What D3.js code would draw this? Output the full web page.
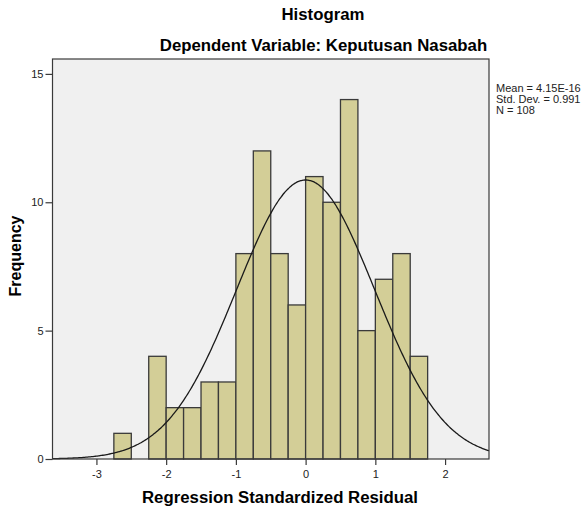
<!DOCTYPE html>
<html>
<head>
<meta charset="utf-8">
<script src="https://cdn.jsdelivr.net/npm/d3@7"></script>
<style>
  html, body { margin: 0; padding: 0; background: #fff; }
  svg { display: block; font-family: Arial, "Liberation Sans", sans-serif; }
</style>
</head>
<body>
<svg id="chart" width="587" height="510"></svg>
<script>
// SPSS-style residual histogram with normal curve
var binStart = [-2.75, -2.5, -2.25, -2.0, -1.75, -1.5, -1.25, -1.0, -0.75, -0.5, -0.25, 0.0, 0.25, 0.5, 0.75, 1.0, 1.25, 1.5];
var counts   = [1, 0, 4, 2, 2, 3, 3, 8, 12, 8, 6, 11, 10, 14, 5, 7, 8, 4];
var binWidth = 0.25;
var xTicks = [-3, -2, -1, 0, 1, 2];
var yTicks = [0, 5, 10, 15];
var stats = { mean: 4.15e-16, sd: 0.991, n: 108 };
var statLines = ["Mean = 4.15E-16", "Std. Dev. = 0.991", "N = 108"];

var L = 52.5, R = 489, T = 59, B = 459;
var svg = d3.select("#chart");
var x = d3.scaleLinear().domain([-3.63, 2.63]).range([L, R]);
var y = d3.scaleLinear().domain([0, 15.58]).range([B, T]);

svg.append("rect").attr("x", L).attr("y", T).attr("width", R - L).attr("height", B - T)
  .attr("fill", "#f0f0f0");

svg.append("g").selectAll("rect").data(counts.map(function (c, i) { return { x0: binStart[i], c: c }; })
  .filter(function (d) { return d.c > 0; }))
  .enter().append("rect")
  .attr("x", function (d) { return x(d.x0); })
  .attr("y", function (d) { return y(d.c); })
  .attr("width", function (d) { return x(d.x0 + binWidth) - x(d.x0); })
  .attr("height", function (d) { return y(0) - y(d.c); })
  .attr("fill", "#d3ce97").attr("stroke", "#3a3a3a").attr("stroke-width", 1.3);

// normal curve scaled to counts
var k = stats.n * binWidth / (stats.sd * Math.sqrt(2 * Math.PI));
var xs = d3.range(x.domain()[0], x.domain()[1] + 0.001, 0.02);
var line = d3.line().x(function (v) { return x(v); })
  .y(function (v) { return y(k * Math.exp(-0.5 * Math.pow((v - stats.mean) / stats.sd, 2))); })
  .curve(d3.curveBasis);
svg.append("path").datum(xs).attr("d", line).attr("fill", "none")
  .attr("stroke", "#1a1a1a").attr("stroke-width", 1.3);

svg.append("rect").attr("x", L).attr("y", T).attr("width", R - L).attr("height", B - T)
  .attr("fill", "none").attr("stroke", "#3a3a3a").attr("stroke-width", 1.2);

var ya = svg.append("g").attr("transform", "translate(" + L + ",0)")
  .call(d3.axisLeft(y).tickValues(yTicks).tickSize(7).tickPadding(2));
var xa = svg.append("g").attr("transform", "translate(0," + B + ")")
  .call(d3.axisBottom(x).tickValues(xTicks).tickSize(6).tickPadding(5).tickFormat(d3.format("d")));
[ya, xa].forEach(function (g) {
  g.select(".domain").remove();
  g.selectAll("line").attr("stroke", "#3a3a3a").attr("stroke-width", 1.2);
  g.selectAll("text").attr("font-size", 11).attr("fill", "#222").attr("font-family", "Arial, 'Liberation Sans', sans-serif");
});
xa.selectAll("text").text(function (d) { return d < 0 ? "-" + Math.abs(d) : d; });

svg.append("text").attr("x", 323).attr("y", 20).attr("text-anchor", "middle")
  .attr("font-size", 16.8).attr("font-weight", "bold").text("Histogram");
svg.append("text").attr("x", 323.5).attr("y", 51).attr("text-anchor", "middle")
  .attr("font-size", 16.8).attr("font-weight", "bold").text("Dependent Variable: Keputusan Nasabah");
svg.append("text").attr("x", 142).attr("y", 503)
  .attr("font-size", 16.8).attr("font-weight", "bold").text("Regression Standardized Residual");
svg.append("text").attr("transform", "translate(21,256) rotate(-90)").attr("text-anchor", "middle")
  .attr("font-size", 16).attr("font-weight", "bold").text("Frequency");

svg.append("g").selectAll("text").data(statLines).enter().append("text")
  .attr("x", 496).attr("y", function (d, i) { return 92 + i * 11; })
  .attr("font-size", 11).attr("fill", "#222").text(function (d) { return d; });
</script>
</body>
</html>
